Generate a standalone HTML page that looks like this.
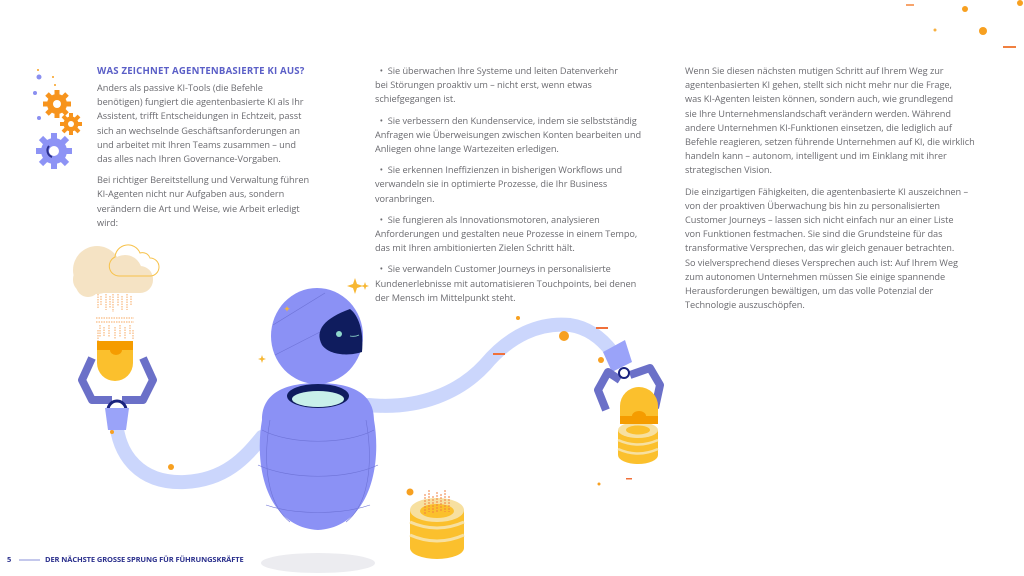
<!DOCTYPE html>
<html><head><meta charset="utf-8"><style>
html,body{margin:0;padding:0;background:#fff;}
body{width:1024px;height:576px;position:relative;overflow:hidden;font-family:"Open Sans","Liberation Sans",sans-serif;color:#6b6b70;}
.t{position:absolute;font-size:9.2px;line-height:14.2px;white-space:nowrap;letter-spacing:-0.05px}
.t p{margin:0 0 7px 0}
h1{position:absolute;left:97px;top:64px;margin:0;font-size:9.6px;font-weight:bold;color:#5b5fc7;letter-spacing:0.2px;white-space:nowrap}
.f{position:absolute;top:555px;font-size:7.5px;font-weight:bold;color:#2a2f8c;white-space:nowrap;letter-spacing:-0.1px}
</style></head><body>
<svg width="1024" height="576" style="position:absolute;left:0;top:0">
<rect x="906" y="4" width="8" height="2" fill="#f7a46b"/>
<circle cx="965" cy="9" r="3" fill="#f7a020"/>
<circle cx="1020" cy="3" r="3" fill="#f7a020"/>
<circle cx="935" cy="30" r="1.5" fill="#f7b040"/>
<circle cx="983" cy="31" r="4" fill="#f7a020"/>
<rect x="1003" y="46" width="13" height="2" fill="#f08040"/>
<circle cx="39" cy="77" r="2.5" fill="#8a8ff0"/><circle cx="35" cy="93" r="2" fill="#8a8ff0"/><circle cx="39" cy="118" r="2" fill="#8a8ff0"/>
<circle cx="38" cy="70" r="1" fill="#f7a020"/><circle cx="53" cy="77" r="1" fill="#f7a020"/><circle cx="55" cy="85" r="1" fill="#f7a020"/>
<g fill="#f7941d"><circle cx="57" cy="104" r="10"/>
<g stroke="#f7941d" stroke-width="5"><line x1="57" y1="90" x2="57" y2="118"/><line x1="43" y1="104" x2="71" y2="104"/><line x1="47" y1="94" x2="67" y2="114"/><line x1="67" y1="94" x2="47" y2="114"/></g>
<circle cx="57" cy="104" r="4" fill="#fff"/></g>
<g fill="#f7941d"><circle cx="71" cy="124" r="7.5"/>
<g stroke="#f7941d" stroke-width="4"><line x1="71" y1="113" x2="71" y2="135"/><line x1="60" y1="124" x2="82" y2="124"/><line x1="63" y1="116" x2="79" y2="132"/><line x1="79" y1="116" x2="63" y2="132"/></g>
<circle cx="71" cy="124" r="3" fill="#fff"/></g>
<g fill="#8d93f5"><circle cx="54" cy="151" r="13"/>
<g stroke="#8d93f5" stroke-width="6"><line x1="54" y1="133" x2="54" y2="169"/><line x1="36" y1="151" x2="72" y2="151"/><line x1="41" y1="138" x2="67" y2="164"/><line x1="67" y1="138" x2="41" y2="164"/></g>
<circle cx="54" cy="151" r="5" fill="#fff"/><path d="M49 146 a7 7 0 0 0 3 11" stroke="#2b2f8c" stroke-width="2" fill="none"/></g>
<!-- tubes -->
<path d="M116 420 C118 455 140 484 185 482 C225 480 245 458 262 437" stroke="#cbd6fc" stroke-width="14" fill="none" stroke-linecap="round"/>
<path d="M368 405 C420 410 460 392 485 365 C510 335 540 322 570 325 C590 328 603 340 612 352" stroke="#cbd6fc" stroke-width="14" fill="none" stroke-linecap="round"/>
<ellipse cx="318" cy="563" rx="57" ry="10" fill="#ececf0"/>
<!-- robot body -->
<path d="M262 420 C262 390 290 383 318 383 C346 383 374 390 374 420 C382 465 370 527 318 530 C266 527 254 465 262 420Z" fill="#8b91f5"/>
<path d="M262 430 C290 445 346 445 374 430 M258 465 C290 480 346 480 378 465 M266 505 C295 515 341 515 370 505 M270 420 C262 465 268 505 290 522 M366 420 C374 465 368 505 346 522" stroke="#6d72d6" stroke-width="0.6" fill="none"/>
<ellipse cx="318" cy="396" rx="31" ry="12" fill="#0f1c5e"/>
<ellipse cx="318" cy="399" rx="26" ry="8" fill="#c8f0ea"/>
<ellipse cx="317" cy="336" rx="46" ry="48" fill="#8b91f5"/>
<path d="M273 325 L325 293 M275 355 L320 332" stroke="#6d72d6" stroke-width="0.6"/>
<path d="M350 309 C358 315 364 330 362 352 C350 356 330 356 322 345 C314 330 325 318 350 309Z" fill="#0f1c5e"/>
<circle cx="339" cy="334" r="3" fill="#8fd8cc"/>
<path d="M350 336 q5 1 9 -1" stroke="#8fd8cc" stroke-width="0.8" fill="none"/>
<g fill="#f7b733"><path d="M355 278 l2 6 6 2 -6 2 -2 6 -2 -6 -6 -2 6 -2z"/><path d="M365 282 l1 3 3 1 -3 1 -1 3 -1 -3 -3 -1 3 -1z"/><path d="M262 355 l1 3 3 1 -3 1 -1 3 -1 -3 -3 -1 3 -1z"/><path d="M287 306 l.8 2 2 .8 -2 .8 -.8 2 -.8 -2 -2 -.8 2 -.8z"/></g>
<g fill="#f7a020"><circle cx="112" cy="432" r="2"/><circle cx="171" cy="467" r="3"/><circle cx="518" cy="318" r="2"/><circle cx="564" cy="336" r="5"/><circle cx="601" cy="360" r="3"/><circle cx="599" cy="484" r="1.5"/><circle cx="410" cy="492" r="3.5"/></g>
<g fill="#f0703a"><rect x="123" y="401" width="8" height="1.5"/><rect x="493" y="353" width="12" height="2"/><rect x="596" y="327" width="12" height="2"/><rect x="626" y="478" width="6" height="1.5"/></g>
<!-- left cloud -->
<g fill="#f5e3c4"><circle cx="97" cy="270" r="24"/><circle cx="125" cy="272" r="17"/><rect x="73" y="266" width="80" height="27" rx="13"/><circle cx="88" cy="285" r="12"/></g>
<path d="M120 276 h30 a9 9 0 0 0 0 -18 a8 8 0 0 0 -10 -5 a13 13 0 0 0 -25 4 a10 10 0 0 0 5 19z" fill="none" stroke="#f7c24a" stroke-width="1"/>
<g stroke="#f7a860" stroke-width="1" stroke-dasharray="1.5 1">
<path d="M98 294v15M101 296v10M106 294v16M110 296v12M113 294v18M118 294v12M122 296v14M127 294v16M131 296v10"/>
<path d="M96 318h38M96 322h38" />
<path d="M100 325v12M104 327v10M109 325v12M115 327v12M120 325v12M125 327v12M130 325v10M98 330v12M133 330v10"/>
</g>
<path d="M92 358 L82 380 L92 400 L112 400 M143 358 L153 380 L143 400 L122 400" stroke="#6b70c8" stroke-width="8" fill="none" stroke-linejoin="round"/>
<path d="M97 343 h36 v20 a18 18 0 0 1 -36 0z" fill="#fbc02d"/>
<rect x="97" y="341" width="36" height="9" fill="#f59c00"/>
<path d="M110 350 a6 5 0 0 0 12 0z" fill="#f59c00"/>
<path d="M108 410 a9 9 0 0 1 18 0" stroke="#1a237e" stroke-width="3" fill="none"/>
<path d="M105 408 h24 l-3 22 h-18z" fill="#9aa3f9"/>
<!-- right gripper -->
<path d="M603 352 L625 340 L632 362 L612 372z" fill="#9aa3f9"/>
<path d="M620 380 L608 372 L598 390 L606 410 M630 375 L650 368 L660 385 L655 408" stroke="#6b70c8" stroke-width="8" fill="none" stroke-linejoin="round"/>
<circle cx="624" cy="373" r="5" fill="none" stroke="#1a237e" stroke-width="2"/>
<g><ellipse cx="638" cy="455" rx="20" ry="9" fill="#fbc02d"/><rect x="618" y="430" width="40" height="25" fill="#fbc02d"/>
<ellipse cx="638" cy="430" rx="20" ry="8" fill="#f7e0a0"/><ellipse cx="638" cy="430" rx="12" ry="4.5" fill="#fbc02d"/>
<path d="M618 440 q20 9 40 0 M618 449 q20 9 40 0" stroke="#f7e0a0" stroke-width="2.5" fill="none"/></g>
<path d="M620 406 a19 19 0 0 1 38 0 v18 h-38z" fill="#fbc02d"/>
<rect x="620" y="416" width="38" height="8" fill="#f59c00"/>
<path d="M632 416 a7 5 0 0 1 14 0z" fill="#f59c00"/>
<!-- bottom coins -->
<g><ellipse cx="437" cy="548" rx="27" ry="11" fill="#fbc02d"/><rect x="410" y="510" width="54" height="38" fill="#fbc02d"/>
<ellipse cx="437" cy="510" rx="27" ry="12" fill="#f7e0a0"/><ellipse cx="437" cy="511" rx="17" ry="7" fill="#fbc02d"/>
<path d="M410 522 q27 12 54 0 M410 535 q27 12 54 0" stroke="#f7e0a0" stroke-width="3" fill="none"/>
<g stroke="#f08040" stroke-width="1" stroke-dasharray="2 1"><path d="M425 494v20M429 490v22M433 496v18M437 492v20M441 494v18M445 490v22M449 496v16"/></g></g>
<line x1="19" y1="560" x2="40" y2="560" stroke="#8a90d8" stroke-width="1"/>
</svg>
<h1>WAS ZEICHNET AGENTENBASIERTE KI AUS?</h1>
<div class="t" style="left:97px;top:81px">
<p>Anders als passive KI-Tools (die Befehle<br>benötigen) fungiert die agentenbasierte KI als Ihr<br>Assistent, trifft Entscheidungen in Echtzeit, passt<br>sich an wechselnde Geschäftsanforderungen an<br>und arbeitet mit Ihren Teams zusammen – und<br>das alles nach Ihren Governance-Vorgaben.</p>
<p>Bei richtiger Bereitstellung und Verwaltung führen<br>KI-Agenten nicht nur Aufgaben aus, sondern<br>verändern die Art und Weise, wie Arbeit erledigt<br>wird:</p>
</div>
<div class="t" style="left:375px;top:64px">
<p>&nbsp; • &nbsp;Sie überwachen Ihre Systeme und leiten Datenverkehr<br>bei Störungen proaktiv um – nicht erst, wenn etwas<br>schiefgegangen ist.</p>
<p>&nbsp; • &nbsp;Sie verbessern den Kundenservice, indem sie selbstständig<br>Anfragen wie Überweisungen zwischen Konten bearbeiten und<br>Anliegen ohne lange Wartezeiten erledigen.</p>
<p>&nbsp; • &nbsp;Sie erkennen Ineffizienzen in bisherigen Workflows und<br>verwandeln sie in optimierte Prozesse, die Ihr Business<br>voranbringen.</p>
<p>&nbsp; • &nbsp;Sie fungieren als Innovationsmotoren, analysieren<br>Anforderungen und gestalten neue Prozesse in einem Tempo,<br>das mit Ihren ambitionierten Zielen Schritt hält.</p>
<p>&nbsp; • &nbsp;Sie verwandeln Customer Journeys in personalisierte<br>Kundenerlebnisse mit automatisieren Touchpoints, bei denen<br>der Mensch im Mittelpunkt steht.</p>
</div>
<div class="t" style="left:685px;top:64px">
<p>Wenn Sie diesen nächsten mutigen Schritt auf Ihrem Weg zur<br>agentenbasierten KI gehen, stellt sich nicht mehr nur die Frage,<br>was KI-Agenten leisten können, sondern auch, wie grundlegend<br>sie Ihre Unternehmenslandschaft verändern werden. Während<br>andere Unternehmen KI-Funktionen einsetzen, die lediglich auf<br>Befehle reagieren, setzen führende Unternehmen auf KI, die wirklich<br>handeln kann – autonom, intelligent und im Einklang mit ihrer<br>strategischen Vision.</p>
<p>Die einzigartigen Fähigkeiten, die agentenbasierte KI auszeichnen –<br>von der proaktiven Überwachung bis hin zu personalisierten<br>Customer Journeys – lassen sich nicht einfach nur an einer Liste<br>von Funktionen festmachen. Sie sind die Grundsteine für das<br>transformative Versprechen, das wir gleich genauer betrachten.<br>So vielversprechend dieses Versprechen auch ist: Auf Ihrem Weg<br>zum autonomen Unternehmen müssen Sie einige spannende<br>Herausforderungen bewältigen, um das volle Potenzial der<br>Technologie auszuschöpfen.</p>
</div>
<div class="f" style="left:7px">5</div>
<div class="f" style="left:45px">DER NÄCHSTE GROSSE SPRUNG FÜR FÜHRUNGSKRÄFTE</div>
</body></html>
